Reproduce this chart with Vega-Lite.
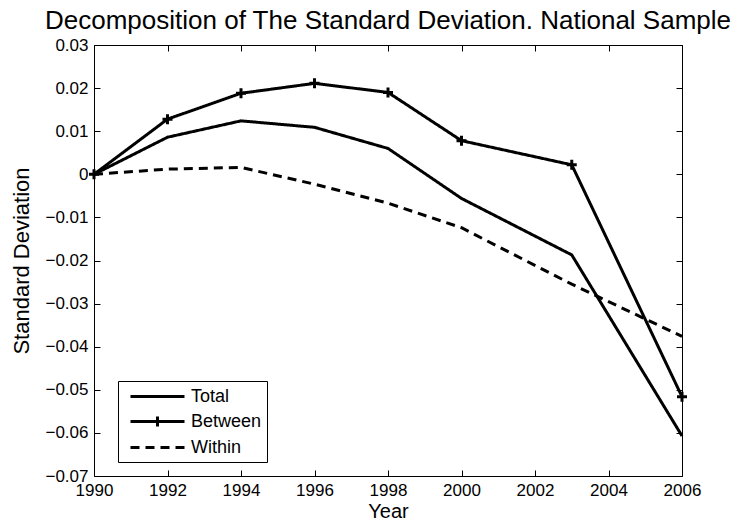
{
  "$schema": "https://vega.github.io/schema/vega-lite/v6.json",
  "width": 588,
  "height": 431,
  "autosize": {"type": "none"},
  "padding": {"left": 94, "top": 45, "right": 66, "bottom": 47},
  "background": "white",
  "title": {
    "text": "Decomposition of The Standard Deviation. National Sample",
    "font": "Liberation Sans",
    "fontSize": 26,
    "fontWeight": "normal",
    "color": "black",
    "anchor": "middle",
    "offset": 2
  },
  "config": {
    "font": "Liberation Sans",
    "view": {"stroke": "black", "strokeWidth": 1},
    "axis": {
      "domain": false,
      "grid": false,
      "ticks": true,
      "tickSize": -6,
      "tickColor": "black",
      "tickWidth": 1,
      "labelFont": "Liberation Sans",
      "labelFontSize": 17,
      "labelColor": "black",
      "titleFont": "Liberation Sans",
      "titleFontSize": 22,
      "titleFontWeight": "normal",
      "titleColor": "black",
      "labelFlush": false,
      "labelOverlap": false
    },
    "legend": {
      "labelFont": "Liberation Sans",
      "labelFontSize": 18,
      "labelColor": "black"
    }
  },
  "data": {
    "values": [
      {"year": 1990, "series": "Total", "value": 0},
      {"year": 1992, "series": "Total", "value": 0.0086},
      {"year": 1994, "series": "Total", "value": 0.0124},
      {"year": 1996, "series": "Total", "value": 0.0109},
      {"year": 1998, "series": "Total", "value": 0.006},
      {"year": 2000, "series": "Total", "value": -0.0056},
      {"year": 2003, "series": "Total", "value": -0.0187},
      {"year": 2006, "series": "Total", "value": -0.0607},
      {"year": 1990, "series": "Between", "value": 0},
      {"year": 1992, "series": "Between", "value": 0.0128},
      {"year": 1994, "series": "Between", "value": 0.0188},
      {"year": 1996, "series": "Between", "value": 0.0211},
      {"year": 1998, "series": "Between", "value": 0.019},
      {"year": 2000, "series": "Between", "value": 0.0078},
      {"year": 2003, "series": "Between", "value": 0.0022},
      {"year": 2006, "series": "Between", "value": -0.0516},
      {"year": 1990, "series": "Within", "value": 0},
      {"year": 1992, "series": "Within", "value": 0.0012},
      {"year": 1994, "series": "Within", "value": 0.0016},
      {"year": 1996, "series": "Within", "value": -0.0023},
      {"year": 1998, "series": "Within", "value": -0.0067},
      {"year": 2000, "series": "Within", "value": -0.0124},
      {"year": 2003, "series": "Within", "value": -0.0255},
      {"year": 2006, "series": "Within", "value": -0.0376}
    ]
  },
  "layer": [
    {
      "mark": {"type": "line", "color": "black", "strokeWidth": 3, "strokeJoin": "miter", "strokeCap": "butt"},
      "encoding": {
        "x": {
          "field": "year", "type": "quantitative",
          "scale": {"domain": [1990, 2006], "nice": false, "zero": false},
          "axis": {"orient": "bottom", "title": "Year", "titleFontSize": 20, "values": [1990, 1992, 1994, 1996, 1998, 2000, 2002, 2004, 2006], "format": "d", "labelPadding": 12, "titlePadding": 3}
        },
        "y": {
          "field": "value", "type": "quantitative",
          "scale": {"domain": [-0.07, 0.03], "nice": false, "zero": false},
          "axis": {"orient": "left", "title": "Standard Deviation", "values": [-0.07, -0.06, -0.05, -0.04, -0.03, -0.02, -0.01, 0, 0.01, 0.02, 0.03], "labelExpr": "datum.value === 0 ? '0' : replace(format(datum.value, '.2f'), '-', '\u2212')", "labelPadding": 12, "titlePadding": 11}
        },
        "strokeDash": {
          "field": "series", "type": "nominal",
          "scale": {"domain": ["Total", "Between", "Within"], "range": [[1, 0], [1, 0], [9, 6]]},
          "legend": {
            "title": null,
            "orient": "none",
            "legendX": 24,
            "legendY": 336,
            "padding": 5,
            "rowPadding": 4,
            "labelOffset": 47,
            "symbolType": "stroke",
            "symbolSize": 324,
            "symbolStrokeWidth": 3,
            "symbolStrokeColor": "black",
            "strokeColor": "black",
            "fillColor": "white",
            "cornerRadius": 0,
            "encode": {
              "symbols": {
                "update": {
                  "shape": {"signal": "datum.value === 'Between' ? 'M-0.333,0L5.667,0M2.667,-0.55L2.667,0.55' : 'M-0.333,0L5.667,0'"}
                }
              }
            }
          }
        }
      }
    },
    {
      "transform": [{"filter": "datum.series === 'Between'"}],
      "mark": {"type": "point", "shape": "M-1,0L1,0M0,-1L0,1", "filled": false, "color": "black", "strokeWidth": 3, "size": 100, "opacity": 1},
      "encoding": {
        "x": {
          "field": "year", "type": "quantitative",
          "axis": {"orient": "top", "title": null, "labels": false, "values": [1990, 1992, 1994, 1996, 1998, 2000, 2002, 2004, 2006]}
        },
        "y": {
          "field": "value", "type": "quantitative",
          "axis": {"orient": "right", "title": null, "labels": false, "values": [-0.07, -0.06, -0.05, -0.04, -0.03, -0.02, -0.01, 0, 0.01, 0.02, 0.03]}
        }
      }
    }
  ],
  "resolve": {"axis": {"x": "independent", "y": "independent"}}
}
